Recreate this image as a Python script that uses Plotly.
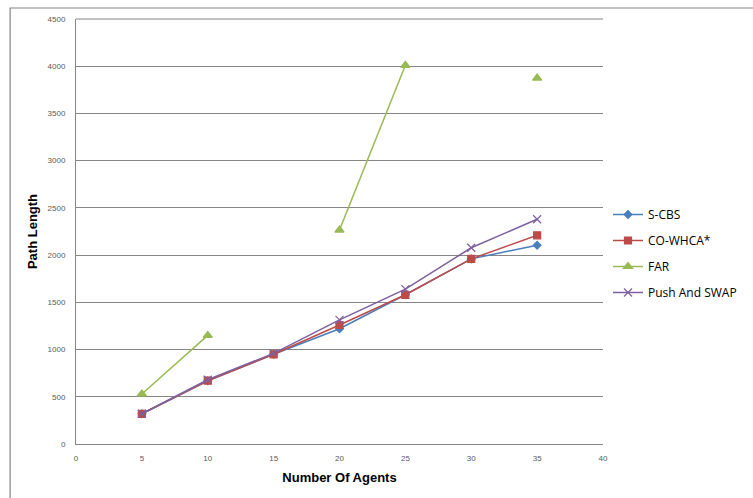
import plotly.graph_objects as go

agents = [5, 10, 15, 20, 25, 30, 35]
s_cbs = [320, 670, 950, 1220, 1580, 1960, 2105]
co_whca = [320, 670, 950, 1260, 1580, 1960, 2210]
far = [530, 1150, None, 2265, 4010, None, 3875]
push_swap = [320, 680, 960, 1315, 1640, 2078, 2380]

series = [
    ("S-CBS", s_cbs, "#4A7EBB", "diamond", 6),
    ("CO-WHCA*", co_whca, "#BE4B48", "square", 7),
    ("FAR", far, "#98B954", "triangle-up", 8),
    ("Push And SWAP", push_swap, "#7D60A0", "x-thin", 8),
]

fig = go.Figure()
for i, (name, vals, color, sym, size) in enumerate(series):
    fig.add_trace(go.Scatter(
        x=agents, y=vals, name=name, mode="lines+markers",
        legendgroup=f"g{i}",
        line=dict(color=color, width=1.5),
        marker=dict(symbol=sym, size=size, color=color,
                    line=dict(color=color, width=1.2)),
        connectgaps=False,
    ))

fig.update_layout(
    width=753, height=498,
    margin=dict(l=76, r=149, t=19, b=54),
    paper_bgcolor="white", plot_bgcolor="white",
    font=dict(family="Liberation Sans, Arial", color="#000000"),
    showlegend=True,
    legend=dict(x=(608 - 76) / 528, y=(444 - 200) / 425, xanchor="left", yanchor="top",
                font=dict(size=12, family="Open Sans, Liberation Sans"),
                tracegroupgap=7,
                bgcolor="rgba(0,0,0,0)"),
    xaxis=dict(range=[0, 40], dtick=5, tick0=0, showgrid=False,
               showline=True, linecolor="#868686", linewidth=1,
               zeroline=False, ticks="", automargin=False,
               ticklabelstandoff=6,
               tickfont=dict(size=8, color="#595959"),
               title=dict(text="<b>Number Of Agents</b>", font=dict(size=13), standoff=11)),
    yaxis=dict(range=[0, 4500], dtick=500, tick0=0, showgrid=True,
               gridcolor="#868686", gridwidth=1,
               showline=True, linecolor="#868686", linewidth=1,
               zeroline=False, ticks="", automargin=False,
               ticklabelstandoff=8,
               tickfont=dict(size=8, color="#595959"),
               title=dict(text="<b>Path Length</b>", font=dict(size=13), standoff=7)),
)

# outer chart border (Excel chart area frame)
fig.add_shape(type="rect", xref="paper", yref="paper",
              x0=-66/528, y0=-60/425, x1=1.4, y1=1 + 11/425,
              line=dict(color="#868686", width=1.2), fillcolor="rgba(0,0,0,0)",
              layer="below")
# top border of plot area
fig.add_shape(type="line", xref="paper", yref="paper", x0=0, x1=1, y0=1, y1=1,
              line=dict(color="#868686", width=1))

fig.write_html("out.html", config={"displayModeBar": False},
               post_script="document.body.style.margin='0';")
